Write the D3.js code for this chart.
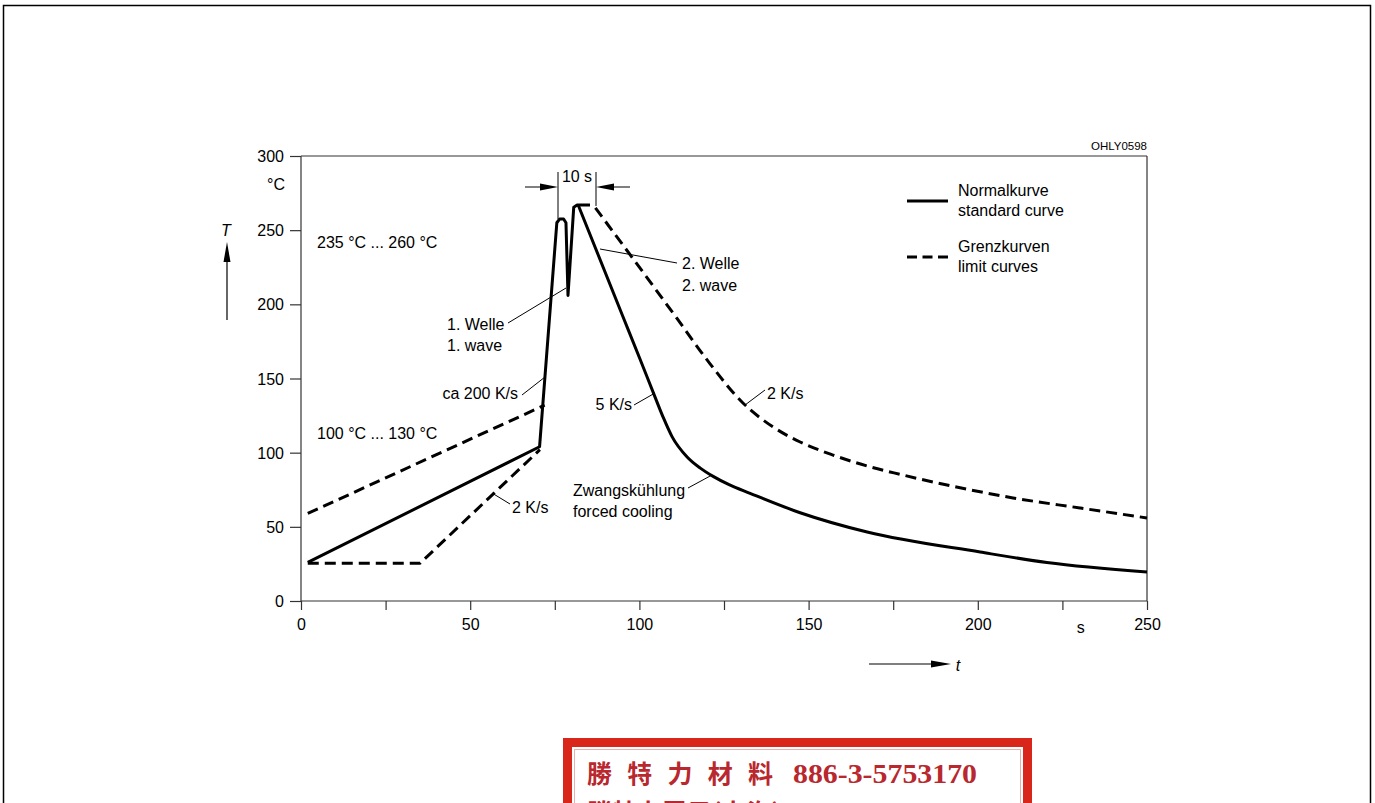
<!DOCTYPE html>
<html><head><meta charset="utf-8">
<script src="https://cdn.jsdelivr.net/npm/d3@7"></script>
<style>
html,body{margin:0;padding:0;background:#fff;}
svg{display:block;}
</style></head>
<body>
<svg id="chart" width="1375" height="803" font-family="'Liberation Sans',Arial,sans-serif"></svg>
<script>
// ---- data (t in s, T in °C) ----
const xTicks = [0,25,50,75,100,125,150,175,200,225,250];
const xTickLabels = ["0","","50","","100","","150","","200","","250"];
const yTicks = [0,50,100,150,200,250,300];
const yTickLabels = ["0","50","100","150","200","250","300"];

const standardHeat = [[2,26],[70.5,104],[75.6,255],[76.4,257.5],[77.6,257.5],[78.3,255],[78.9,206],[80.6,265.5],[81.6,267],[85.4,267]];
const standardCool = [[81.9,267],[95,192.5],[100.2,163],[104.6,137.6],[107,124],[109.6,111],[114.1,97.1],[118,89.6],[121.8,84],[126.5,78.4],[132.7,72.6],[147.5,59.5],[167.3,46.5],[200.7,33],[220.4,26],[250,19.5]];
const limitUpperHeat = [[2,59],[72,132]];
const limitUpperCool = [[87,265],[111,190.8],[120,162.5],[130.6,133.5],[139.5,117.3],[147.5,107.2],[157.2,98.4],[167.3,91],[177,85.4],[190.9,78.2],[210.4,69.5],[230.2,62.7],[250,56]];
const limitLowerHeat = [[2,25.5],[35.2,25.5],[70.6,102]];

const legendItems = [["Normalkurve","standard curve"],["Grenzkurven","limit curves"]];

// ---- drawing ----
const svg = d3.select("#chart");
const x = d3.scaleLinear().domain([0,250]).range([301,1147]);
const y = d3.scaleLinear().domain([0,300]).range([601,156]);

// page border
svg.append("rect").attr("x",3.5).attr("y",5.5).attr("width",1367).attr("height",830)
  .attr("fill","none").attr("stroke","#000").attr("stroke-width",1.5);

// frame
const axisColor = "#333";
const frame = svg.append("g").attr("stroke",axisColor).attr("stroke-width",1.2).attr("fill","none");
frame.append("line").attr("x1",x(0)).attr("x2",x(250)).attr("y1",y(300)).attr("y2",y(300));
frame.append("line").attr("x1",x(250)).attr("x2",x(250)).attr("y1",y(300)).attr("y2",y(0));
frame.append("line").attr("x1",x(0)).attr("x2",x(0)).attr("y1",y(300)).attr("y2",y(0));
frame.append("line").attr("x1",x(0)).attr("x2",x(250)).attr("y1",y(0)).attr("y2",y(0));

// axes
const xAxis = d3.axisBottom(x).tickValues(xTicks).tickSize(9).tickSizeOuter(0).tickPadding(6)
  .tickFormat((d,i)=>xTickLabels[i]);
const gx = svg.append("g").attr("transform",`translate(0,${y(0)})`).call(xAxis);
const yAxis = d3.axisLeft(y).tickValues(yTicks).tickSize(11).tickSizeOuter(0).tickPadding(6)
  .tickFormat((d,i)=>yTickLabels[i]);
const gy = svg.append("g").attr("transform",`translate(${x(0)},0)`).call(yAxis);
[gx,gy].forEach(g=>{
  g.attr("font-family",null).attr("font-size",null);
  g.select(".domain").remove();
  g.selectAll(".tick line").attr("stroke",axisColor).attr("stroke-width",1.2);
  g.selectAll(".tick text").attr("fill","#000").attr("font-size",16);
});
gx.selectAll(".tick text").attr("dy","0.9em");
gy.selectAll(".tick text").attr("dy","0.35em");

const txt = (px,py,s,opts={})=>{
  const t = svg.append("text").attr("x",px).attr("y",py).attr("font-size",opts.size||16)
    .attr("fill","#000").attr("dominant-baseline","central").text(s);
  if (opts.anchor) t.attr("text-anchor",opts.anchor);
  if (opts.italic) t.attr("font-style","italic");
  return t;
};

// axis units
txt(x(230.4),627,"s",{anchor:"middle"});
txt(285,184,"°C",{anchor:"end"});
txt(226,230,"T",{anchor:"middle",italic:true});
txt(958,665,"t",{anchor:"middle",italic:true});
txt(1147,146,"OHLY0598",{anchor:"end",size:11.5});

// arrows
const arrowG = svg.append("g");
arrowG.append("line").attr("x1",227).attr("x2",227).attr("y1",320).attr("y2",255).attr("stroke","#000").attr("stroke-width",1.2);
arrowG.append("path").attr("d","M227,242 L223.5,262 L230.5,262 Z").attr("fill","#000");
arrowG.append("line").attr("x1",869).attr("x2",935).attr("y1",664).attr("y2",664).attr("stroke","#000").attr("stroke-width",1.2);
arrowG.append("path").attr("d","M951,664 L931,660.5 L931,667.5 Z").attr("fill","#000");

// curves
const line = d3.line().x(d=>x(d[0])).y(d=>y(d[1]));
const smooth = d3.line().x(d=>x(d[0])).y(d=>y(d[1])).curve(d3.curveMonotoneX);
const cg = svg.append("g").attr("fill","none").attr("stroke","#000").attr("stroke-width",3)
  .attr("stroke-linejoin","round");
cg.append("path").attr("d",line(standardHeat));
cg.append("path").attr("d",smooth(standardCool));
const dash = "11,6";
cg.append("path").attr("d",line(limitUpperHeat)).attr("stroke-dasharray",dash);
cg.append("path").attr("d",smooth(limitUpperCool)).attr("stroke-dasharray",dash);
cg.append("path").attr("d",line(limitLowerHeat)).attr("stroke-dasharray",dash);

// leader lines
const leaders = svg.append("g").attr("stroke","#000").attr("stroke-width",1);
const ld = (a,b,c,d)=>leaders.append("line").attr("x1",a).attr("y1",b).attr("x2",c).attr("y2",d);
ld(508,323,566,288);
ld(600,249,677,263);
ld(522,395,545,377);
ld(510,504,492,493);
ld(634,405,655,393);
ld(765,390,745,405);
ld(688,488,712,475);

// annotation texts
txt(317,242,"235 °C ... 260 °C");
txt(317,433,"100 °C ... 130 °C");
txt(447,324,"1. Welle");
txt(447,345,"1. wave");
txt(682,263,"2. Welle");
txt(682,285,"2. wave");
txt(518,393,"ca 200 K/s",{anchor:"end"});
txt(512,507,"2 K/s");
txt(632,404,"5 K/s",{anchor:"end"});
txt(767,393,"2 K/s");
txt(573,490,"Zwangskühlung");
txt(573,511,"forced cooling");

// 10 s dimension
const dim = svg.append("g").attr("stroke","#000").attr("stroke-width",1);
dim.append("line").attr("x1",558).attr("x2",558).attr("y1",172).attr("y2",219);
dim.append("line").attr("x1",596).attr("x2",596).attr("y1",172).attr("y2",206);
dim.append("line").attr("x1",525).attr("x2",545).attr("y1",187).attr("y2",187);
dim.append("line").attr("x1",610).attr("x2",630).attr("y1",187).attr("y2",187);
svg.append("path").attr("d","M558,187 L540,183.5 L540,190.5 Z").attr("fill","#000");
svg.append("path").attr("d","M596,187 L614,183.5 L614,190.5 Z").attr("fill","#000");
txt(577,176,"10 s",{anchor:"middle"});

// legend
const lg = svg.append("g");
legendItems.forEach((it,i)=>{
  const ly = 201 + i*56;
  lg.append("line").attr("x1",907).attr("x2",948).attr("y1",ly).attr("y2",ly)
    .attr("stroke","#000").attr("stroke-width",3).attr("stroke-dasharray",i===1?"10,5.5":null);
  txt(958,ly-11,it[0]);
  txt(958,ly+9,it[1]);
});

// stamp
const st = svg.append("g");
st.append("rect").attr("x",563).attr("y",738).attr("width",469).attr("height",100).attr("fill","#d8261b");
st.append("rect").attr("x",572).attr("y",747).attr("width",451).attr("height",100).attr("fill","#fff");
st.append("rect").attr("x",574.5).attr("y",749.5).attr("width",446).attr("height",100).attr("fill","none").attr("stroke","#eab0ab").attr("stroke-width",1);
st.append("text").attr("x",587).attr("y",783).attr("font-size",25).attr("fill","#b8282e")
  .attr("font-family","'Noto Sans CJK TC','Noto Sans CJK SC',sans-serif").attr("font-weight","bold")
  .attr("textLength",186).attr("lengthAdjust","spacing").text("勝 特 力 材 料");
st.append("text").attr("x",793).attr("y",783).attr("font-size",27).attr("fill","#b8282e")
  .attr("font-family","'Liberation Serif','Times New Roman',serif").attr("font-weight","bold")
  .attr("textLength",184).attr("lengthAdjust","spacingAndGlyphs").text("886-3-5753170");
st.append("text").attr("x",587).attr("y",822).attr("font-size",25).attr("fill","#b8282e")
  .attr("font-family","'Noto Sans CJK TC','Noto Sans CJK SC',sans-serif").attr("font-weight","bold")
  .text("勝特力電子(上海) 86-21-54151736");
</script>
</body></html>
